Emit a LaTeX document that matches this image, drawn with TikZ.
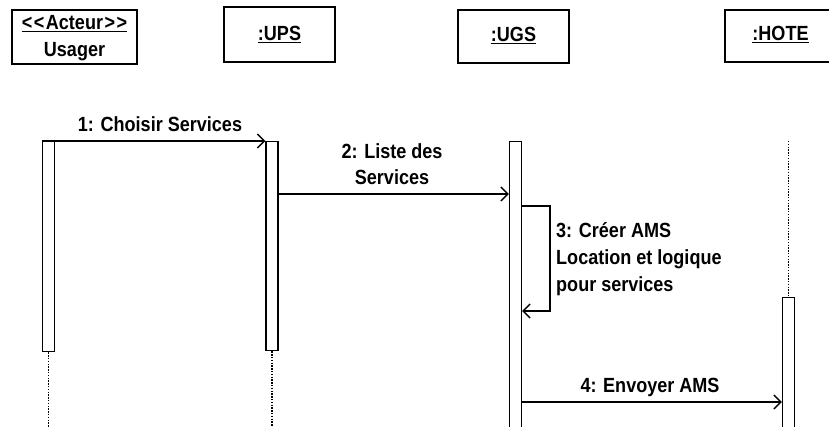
\documentclass[tikz,border=0pt]{standalone}
\usepackage{fontspec}
\setmainfont{Liberation Sans}[FakeStretch=0.88]
\usetikzlibrary{arrows.meta,positioning}

\begin{document}
\begin{tikzpicture}[x=1pt, y=-1pt,
    objbox/.style={draw, line width=1.6pt, minimum width=111pt, minimum height=53pt, inner sep=0pt},
    act/.style={draw, line width=1.3pt, fill=white, minimum width=12pt, inner sep=0pt, anchor=north},
    lifeline/.style={line width=1.6pt, dash pattern=on 1.4pt off 1.4pt},
    msg/.style={-{Straight Barb[length=7pt,width=14pt]}, line width=1.4pt},
    lbl/.style={font=\bfseries\fontsize{20.5}{26.5}\selectfont, anchor=base, inner sep=0pt},
    msglbl/.style={lbl, align=center},
    notelbl/.style={lbl, align=left, anchor=base west}
  ]
  \useasboundingbox (0,0) rectangle (829,427);

  % objects
  \node[objbox, minimum width=125pt, minimum height=54pt] (usager) at (74.5,37) {};
  \node[lbl] (usagerSt) at (74.5,30) {\underline{<\kern1.5pt<\kern1.5pt Acteur\kern1.5pt >\kern1.5pt>}};
  \node[lbl] (usagerNm) at (74.5,57) {Usager};
  \node[objbox, minimum height=55pt] (ups) at (279.5,34.5) {};
  \node[lbl] (upsNm) at (279.5,41) {\underline{:UPS}};
  \node[objbox] (ugs) at (513.5,36.5) {};
  \node[lbl] (ugsNm) at (513.5,42) {\underline{:UGS}};
  \node[objbox, minimum height=52pt] (hote) at (780.5,36) {};
  \node[lbl] (hoteNm) at (780.5,41) {\underline{:HOTE}};

  % activations
  \node[act, minimum height=210pt] (actUs) at (48.5,141) {};
  \node[act, minimum height=209pt] (actUps) at (272,141) {};
  \node[act, minimum height=290pt] (actUgs) at (515.5,141) {};
  \node[act, minimum height=134pt] (actHote) at (788.5,297) {};

  % lifelines
  \draw[lifeline] (actUs.south) -- (actUs.south |- 0,427);
  \draw[lifeline] (actUps.south) -- (actUps.south |- 0,427);
  \draw[lifeline] (actHote.north |- 0,141) -- (actHote.north);

  % messages
  \draw[msg] (actUs.north west) -- (actUps.north west);
  \node[msglbl] (m1) at (160,132) {1: Choisir Services};

  \draw[msg] (actUps.east |- 0,194) -- (actUgs.west |- 0,194);
  \node[msglbl] (m2) at (392,185) {2: Liste des\\Services};

  \coordinate (loopTop) at (550,206);
  \coordinate (loopBot) at (550,311);
  \draw[msg] (actUgs.east |- loopTop) -- (loopTop) -- (loopBot) -- (actUgs.east |- loopBot);
  \node[notelbl] (m3) at (556,291) {3: Créer AMS\\Location et logique\\pour services};

  \draw[msg] (actUgs.east |- 0,402) -- (actHote.west |- 0,402);
  \node[msglbl] (m4) at (650,392) {4: Envoyer AMS};
\end{tikzpicture}
\end{document}
